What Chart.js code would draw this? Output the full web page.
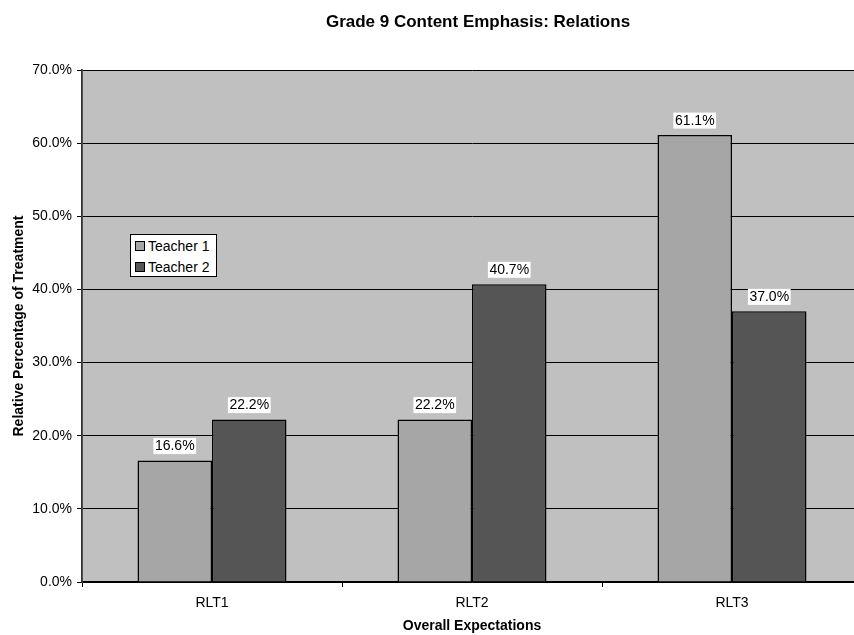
<!DOCTYPE html>
<html>
<head>
<meta charset="utf-8">
<script src="https://cdn.jsdelivr.net/npm/chart.js@4"></script>
<style>
  html, body { margin: 0; padding: 0; background: #fff; overflow: hidden; }
  #wrap { position: relative; width: 862px; height: 635px; }
  #legend {
    position: absolute; left: 130px; top: 234px; width: 85px; height: 41px;
    border: 1px solid #000; background: #fff;
    font-family: "Liberation Sans", Arial, sans-serif; font-size: 14px; color: #000;
  }
  .item { position: absolute; left: 4px; height: 18px; line-height: 18px; white-space: nowrap; }
  .sw { display: inline-block; width: 8px; height: 8px; border: 1px solid #000; margin-right: 3px; vertical-align: 0px; }
</style>
</head>
<body>
<div id="wrap">
  <canvas id="c" width="862" height="635"></canvas>
  <div id="legend"></div>
</div>
<script>
const categories = ["RLT1", "RLT2", "RLT3"];
const seriesNames = ["Teacher 1", "Teacher 2"];
const teacher1 = [16.6, 22.2, 61.1];
const teacher2 = [22.2, 40.7, 37.0];
const yTicks = [0, 10, 20, 30, 40, 50, 60, 70];
const colors = ["#A6A6A6", "#555555"];

const FONT = '"Liberation Sans", Arial, sans-serif';

const bgPlugin = {
  id: 'bg',
  beforeDraw(chart) {
    const {ctx, chartArea: a} = chart;
    ctx.save();
    ctx.fillStyle = '#C0C0C0';
    ctx.fillRect(a.left, a.top, a.right - a.left, a.bottom - a.top);
    ctx.restore();
  }
};

const titlePlugin = {
  id: 'mytitle',
  afterDraw(chart) {
    const ctx = chart.ctx;
    ctx.save();
    ctx.font = 'bold 17px ' + FONT;
    ctx.fillStyle = '#000';
    ctx.textAlign = 'center';
    ctx.textBaseline = 'alphabetic';
    ctx.fillText('Grade 9 Content Emphasis: Relations', 478, 26.5);
    ctx.restore();
  }
};

const labelPlugin = {
  id: 'vlabels',
  afterDatasetsDraw(chart) {
    const ctx = chart.ctx;
    ctx.save();
    ctx.font = '14px ' + FONT;
    ctx.textAlign = 'center';
    ctx.textBaseline = 'middle';
    chart.data.datasets.forEach((ds, di) => {
      const meta = chart.getDatasetMeta(di);
      meta.data.forEach((el, i) => {
        const txt = ds.data[i].toFixed(1) + '%';
        const w = ctx.measureText(txt).width;
        ctx.fillStyle = '#fff';
        ctx.fillRect(el.x - w / 2 - 1.5, el.y - 22.5, w + 3, 16);
        ctx.fillStyle = '#000';
        ctx.fillText(txt, el.x, el.y - 14);
      });
    });
    ctx.restore();
  }
};

const chart = new Chart(document.getElementById('c'), {
  type: 'bar',
  data: {
    labels: categories,
    datasets: [
      { label: seriesNames[0], data: teacher1, backgroundColor: colors[0], borderColor: '#000', borderWidth: 1.5 },
      { label: seriesNames[1], data: teacher2, backgroundColor: colors[1], borderColor: '#000', borderWidth: 1.5 }
    ]
  },
  options: {
    responsive: false,
    animation: false,
    devicePixelRatio: 1,
    layout: { padding: { top: 70, left: 0, right: 0, bottom: 0 } },
    datasets: { bar: { categoryPercentage: 0.573, barPercentage: 1.0 } },
    plugins: {
      legend: { display: false },
      title: { display: false },
      tooltip: { enabled: false }
    },
    scales: {
      x: {
        offset: true,
        grid: { offset: true, drawOnChartArea: false, drawTicks: true, tickLength: 5, tickColor: '#000' },
        border: { color: '#000', width: 1.5 },
        ticks: { color: '#000', font: { family: FONT, size: 14 }, padding: 8, maxRotation: 0 },
        title: { display: true, text: 'Overall Expectations', color: '#000', font: { family: FONT, size: 14, weight: 'bold' }, padding: { top: 0, bottom: 0 } },
        afterFit(s) { s.height = 53; }
      },
      y: {
        min: 0, max: 70,
        afterBuildTicks(s) { s.ticks = yTicks.map(v => ({ value: v })); },
        grid: { color: '#000', lineWidth: 1, drawTicks: true, tickLength: 5, tickColor: '#000' },
        border: { color: '#333', width: 1.8 },
        ticks: { color: '#000', font: { family: FONT, size: 14 }, padding: 5, callback: v => v.toFixed(1) + '%' },
        title: { display: true, text: 'Relative Percentage of Treatment', color: '#000', font: { family: FONT, size: 14, weight: 'bold' }, padding: { top: 11, bottom: 0 } },
        afterFit(s) { s.width = 82; }
      }
    }
  },
  plugins: [bgPlugin, labelPlugin, titlePlugin]
});

const leg = document.getElementById('legend');
seriesNames.forEach((n, i) => {
  const d = document.createElement('div');
  d.className = 'item';
  d.style.top = (2 + i * 21) + 'px';
  const sw = document.createElement('span');
  sw.className = 'sw';
  sw.style.background = colors[i];
  d.appendChild(sw);
  d.appendChild(document.createTextNode(n));
  leg.appendChild(d);
});
</script>
</body>
</html>
